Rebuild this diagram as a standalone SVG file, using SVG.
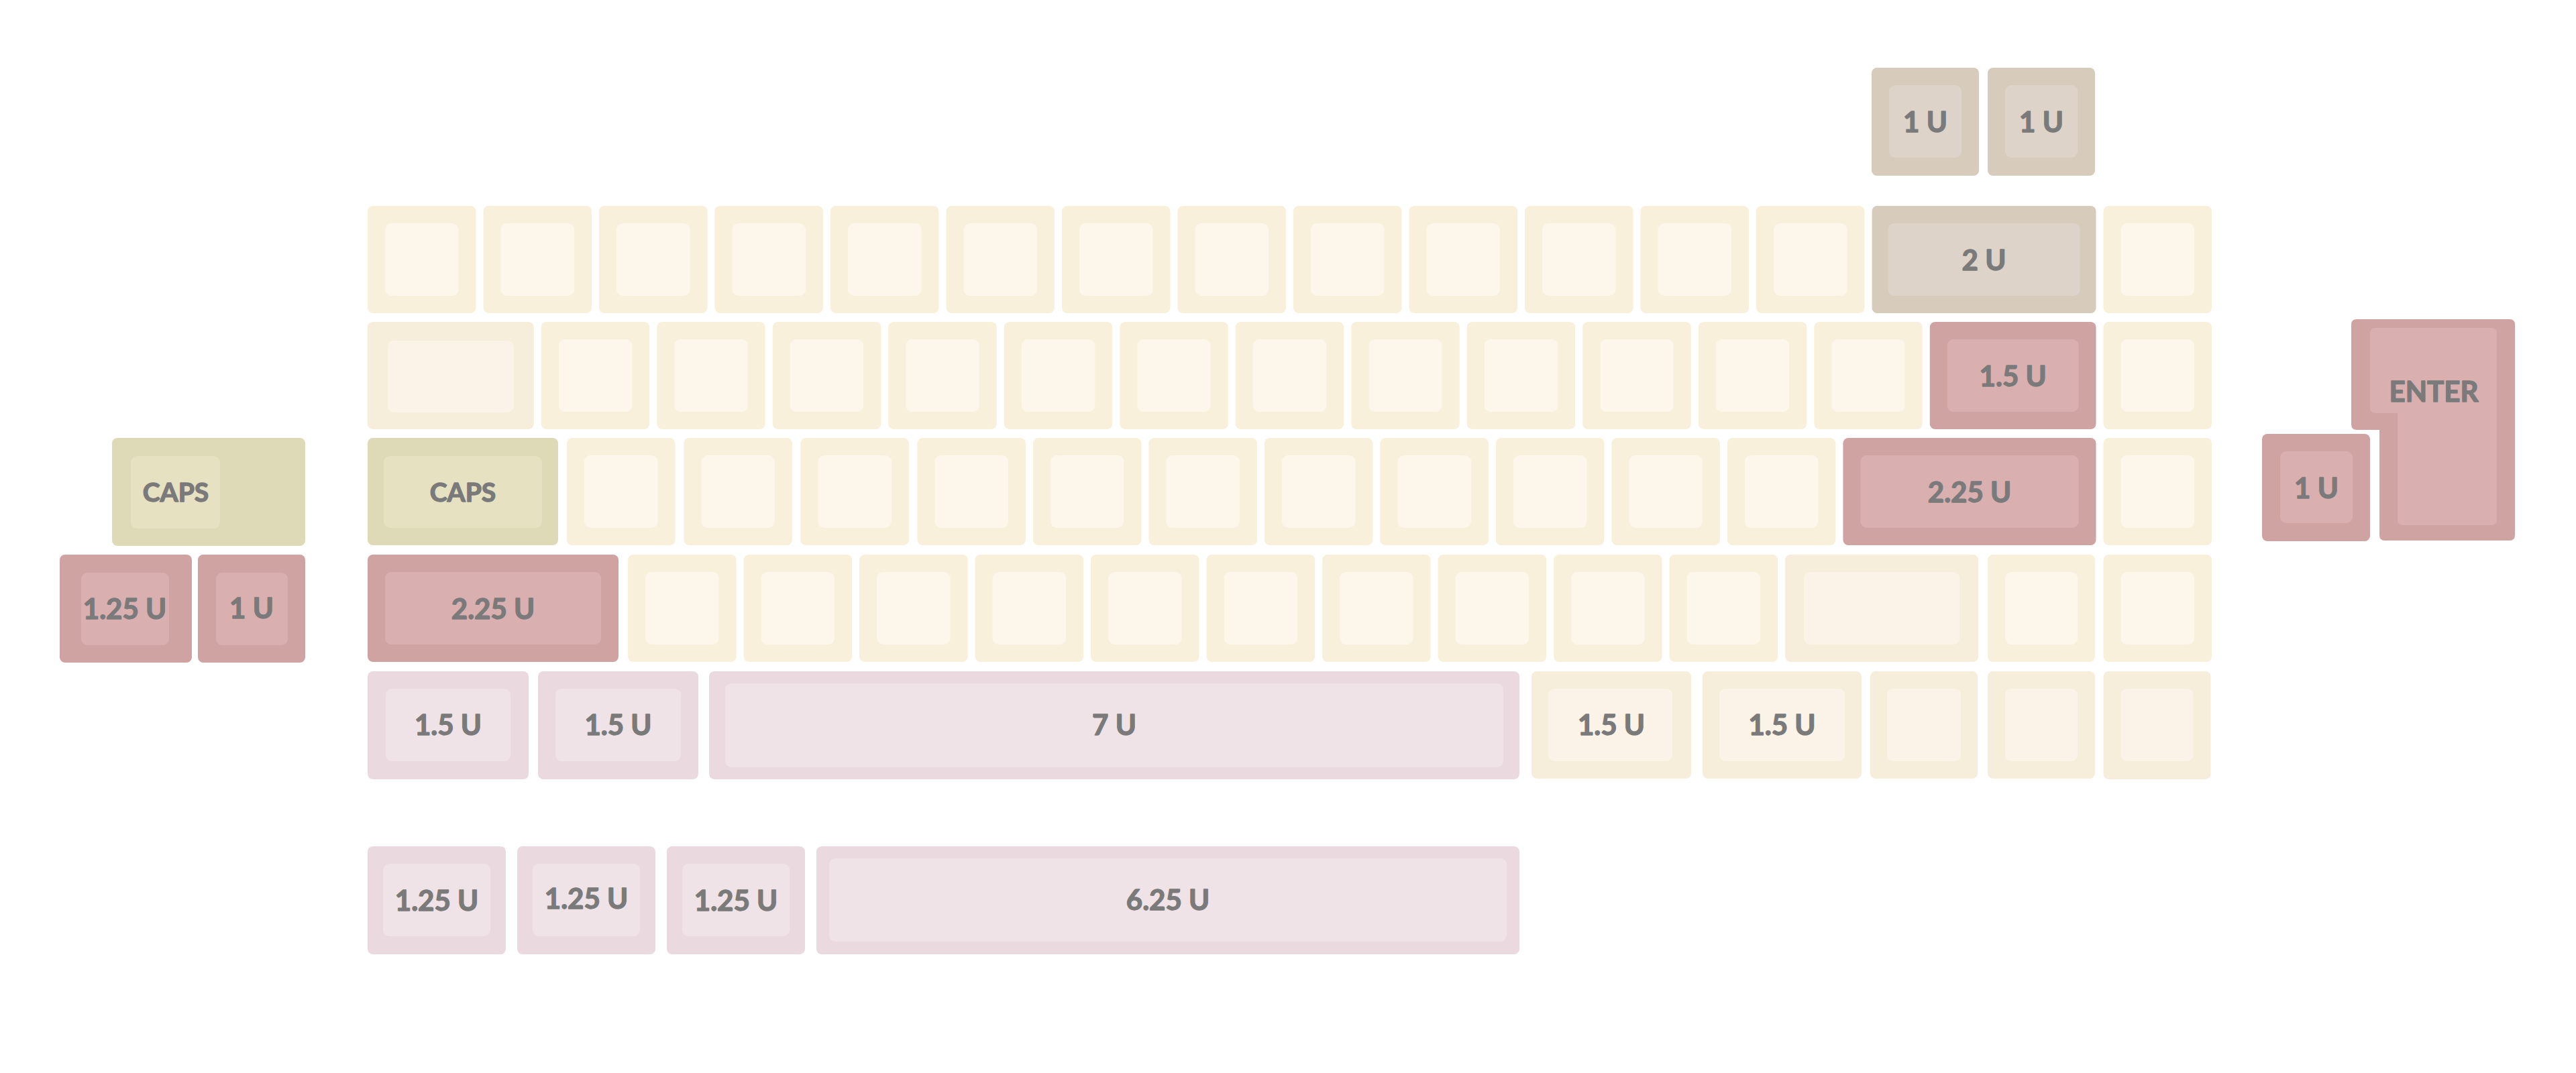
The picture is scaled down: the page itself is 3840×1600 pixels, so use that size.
<svg xmlns="http://www.w3.org/2000/svg" width="3840" height="1600" viewBox="0 0 3840 1600">
<style>
.o{rx:8px;ry:8px}
.i{rx:9px;ry:9px}
.c .o{fill:#f8f0da}.c .i{fill:#fdf6ea}
.m .o{fill:#f6eedb}.m .i{fill:#fbf3e7}
.t .o,.t.o{fill:#d7cbbc}.t .i,.t.i{fill:#ddd3c9}
.r .o,.r.o{fill:#d0a3a3}.r .i,.r.i{fill:#d9afb0}
.g .o,.g.o{fill:#dedab7}.g .i,.g.i{fill:#e5e1c1}
.p .o{fill:#eadadf}.p .i{fill:#efe3e7}
text{font-family:Lato,"Open Sans","Liberation Sans",sans-serif;font-weight:700;font-size:42px;fill:#7a7a7a;stroke:#7a7a7a;stroke-width:1.4px;stroke-linejoin:round;text-anchor:middle}
text.w{font-size:39px}
text.e{font-size:42px}
</style>
<rect width="3840" height="1600" fill="#ffffff"/>
<g id="keys">
<!-- top extras -->
<g id="k-top1" class="t"><rect class="o" x="2790" y="101" width="160" height="161"/><rect class="i" x="2816" y="127" width="108" height="108"/><text x="2870" y="197">1 U</text></g>
<g id="k-top2" class="t"><rect class="o" x="2963" y="101" width="160" height="161"/><rect class="i" x="2989" y="127" width="108" height="108"/><text x="3043" y="197">1 U</text></g>

<!-- row 1 -->
<g id="r1k1" class="c"><rect class="o" x="548" y="307" width="161.5" height="160"/><rect class="i" x="574" y="333" width="109.5" height="108"/></g>
<g id="r1k2" class="c"><rect class="o" x="720.5" y="307" width="161.5" height="160"/><rect class="i" x="746.5" y="333" width="109.5" height="108"/></g>
<g id="r1k3" class="c"><rect class="o" x="893" y="307" width="161.5" height="160"/><rect class="i" x="919" y="333" width="109.5" height="108"/></g>
<g id="r1k4" class="c"><rect class="o" x="1065.5" y="307" width="161.5" height="160"/><rect class="i" x="1091.5" y="333" width="109.5" height="108"/></g>
<g id="r1k5" class="c"><rect class="o" x="1238" y="307" width="161.5" height="160"/><rect class="i" x="1264" y="333" width="109.5" height="108"/></g>
<g id="r1k6" class="c"><rect class="o" x="1410.5" y="307" width="161.5" height="160"/><rect class="i" x="1436.5" y="333" width="109.5" height="108"/></g>
<g id="r1k7" class="c"><rect class="o" x="1583" y="307" width="161.5" height="160"/><rect class="i" x="1609" y="333" width="109.5" height="108"/></g>
<g id="r1k8" class="c"><rect class="o" x="1755.5" y="307" width="161.5" height="160"/><rect class="i" x="1781.5" y="333" width="109.5" height="108"/></g>
<g id="r1k9" class="c"><rect class="o" x="1928" y="307" width="161.5" height="160"/><rect class="i" x="1954" y="333" width="109.5" height="108"/></g>
<g id="r1k10" class="c"><rect class="o" x="2100.5" y="307" width="161.5" height="160"/><rect class="i" x="2126.5" y="333" width="109.5" height="108"/></g>
<g id="r1k11" class="c"><rect class="o" x="2273" y="307" width="161.5" height="160"/><rect class="i" x="2299" y="333" width="109.5" height="108"/></g>
<g id="r1k12" class="c"><rect class="o" x="2445.5" y="307" width="161.5" height="160"/><rect class="i" x="2471.5" y="333" width="109.5" height="108"/></g>
<g id="r1k13" class="c"><rect class="o" x="2618" y="307" width="161.5" height="160"/><rect class="i" x="2644" y="333" width="109.5" height="108"/></g>
<g id="r1k14" class="t"><rect class="o" x="2790.5" y="307" width="334" height="160"/><rect class="i" x="2814.5" y="333" width="286" height="108"/><text x="2957.5" y="403">2 U</text></g>
<g id="r1k15" class="c"><rect class="o" x="3135.5" y="307" width="161.5" height="160"/><rect class="i" x="3161.5" y="333" width="109.5" height="108"/></g>

<!-- row 2 -->
<g id="r2k1" class="m"><rect class="o" x="548" y="480" width="247.75" height="160"/><rect class="i" x="578" y="508" width="187.75" height="107"/></g>
<g id="r2k2" class="c"><rect class="o" x="806.75" y="480" width="161.5" height="160"/><rect class="i" x="832.75" y="506" width="109.5" height="108"/></g>
<g id="r2k3" class="c"><rect class="o" x="979.25" y="480" width="161.5" height="160"/><rect class="i" x="1005.25" y="506" width="109.5" height="108"/></g>
<g id="r2k4" class="c"><rect class="o" x="1151.75" y="480" width="161.5" height="160"/><rect class="i" x="1177.75" y="506" width="109.5" height="108"/></g>
<g id="r2k5" class="c"><rect class="o" x="1324.25" y="480" width="161.5" height="160"/><rect class="i" x="1350.25" y="506" width="109.5" height="108"/></g>
<g id="r2k6" class="c"><rect class="o" x="1496.75" y="480" width="161.5" height="160"/><rect class="i" x="1522.75" y="506" width="109.5" height="108"/></g>
<g id="r2k7" class="c"><rect class="o" x="1669.25" y="480" width="161.5" height="160"/><rect class="i" x="1695.25" y="506" width="109.5" height="108"/></g>
<g id="r2k8" class="c"><rect class="o" x="1841.75" y="480" width="161.5" height="160"/><rect class="i" x="1867.75" y="506" width="109.5" height="108"/></g>
<g id="r2k9" class="c"><rect class="o" x="2014.25" y="480" width="161.5" height="160"/><rect class="i" x="2040.25" y="506" width="109.5" height="108"/></g>
<g id="r2k10" class="c"><rect class="o" x="2186.75" y="480" width="161.5" height="160"/><rect class="i" x="2212.75" y="506" width="109.5" height="108"/></g>
<g id="r2k11" class="c"><rect class="o" x="2359.25" y="480" width="161.5" height="160"/><rect class="i" x="2385.25" y="506" width="109.5" height="108"/></g>
<g id="r2k12" class="c"><rect class="o" x="2531.75" y="480" width="161.5" height="160"/><rect class="i" x="2557.75" y="506" width="109.5" height="108"/></g>
<g id="r2k13" class="c"><rect class="o" x="2704.25" y="480" width="161.5" height="160"/><rect class="i" x="2730.25" y="506" width="109.5" height="108"/></g>
<g id="r2k14" class="r"><rect class="o" x="2876.75" y="480" width="247.75" height="160"/><rect class="i" x="2902.75" y="506" width="195.75" height="108"/><text x="3000.6" y="576">1.5 U</text></g>
<g id="r2k15" class="c"><rect class="o" x="3135.5" y="480" width="161.5" height="160"/><rect class="i" x="3161.5" y="506" width="109.5" height="108"/></g>

<!-- row 3 -->
<g id="r3k1" class="g"><rect class="o" x="548" y="653" width="284" height="160"/><rect class="i" x="572" y="680" width="236" height="107"/><text class="w" x="690" y="748">CAPS</text></g>
<g id="r3k2" class="c"><rect class="o" x="845" y="653" width="161.5" height="160"/><rect class="i" x="871" y="679" width="109.5" height="108"/></g>
<g id="r3k3" class="c"><rect class="o" x="1019.4" y="653" width="161.5" height="160"/><rect class="i" x="1045.4" y="679" width="109.5" height="108"/></g>
<g id="r3k4" class="c"><rect class="o" x="1193.4" y="653" width="161.5" height="160"/><rect class="i" x="1219.4" y="679" width="109.5" height="108"/></g>
<g id="r3k5" class="c"><rect class="o" x="1367.4" y="653" width="161.5" height="160"/><rect class="i" x="1393.4" y="679" width="109.5" height="108"/></g>
<g id="r3k6" class="c"><rect class="o" x="1539.9" y="653" width="161.5" height="160"/><rect class="i" x="1565.9" y="679" width="109.5" height="108"/></g>
<g id="r3k7" class="c"><rect class="o" x="1712.4" y="653" width="161.5" height="160"/><rect class="i" x="1738.4" y="679" width="109.5" height="108"/></g>
<g id="r3k8" class="c"><rect class="o" x="1884.9" y="653" width="161.5" height="160"/><rect class="i" x="1910.9" y="679" width="109.5" height="108"/></g>
<g id="r3k9" class="c"><rect class="o" x="2057.4" y="653" width="161.5" height="160"/><rect class="i" x="2083.4" y="679" width="109.5" height="108"/></g>
<g id="r3k10" class="c"><rect class="o" x="2229.9" y="653" width="161.5" height="160"/><rect class="i" x="2255.9" y="679" width="109.5" height="108"/></g>
<g id="r3k11" class="c"><rect class="o" x="2402.4" y="653" width="161.5" height="160"/><rect class="i" x="2428.4" y="679" width="109.5" height="108"/></g>
<g id="r3k12" class="c"><rect class="o" x="2574.9" y="653" width="161.5" height="160"/><rect class="i" x="2600.9" y="679" width="109.5" height="108"/></g>
<g id="r3k13" class="r"><rect class="o" x="2747.4" y="653" width="377.1" height="160"/><rect class="i" x="2773.4" y="679" width="325.1" height="108"/><text x="2936" y="749">2.25 U</text></g>
<g id="r3k14" class="c"><rect class="o" x="3135.5" y="653" width="161.5" height="160"/><rect class="i" x="3161.5" y="679" width="109.5" height="108"/></g>

<!-- row 4 -->
<g id="r4k1" class="r"><rect class="o" x="548" y="827" width="374" height="160"/><rect class="i" x="574" y="853" width="322" height="108"/><text x="735" y="923">2.25 U</text></g>
<g id="r4k2" class="c"><rect class="o" x="936.1" y="827" width="161.5" height="160"/><rect class="i" x="962.1" y="853" width="109.5" height="108"/></g>
<g id="r4k3" class="c"><rect class="o" x="1108.6" y="827" width="161.5" height="160"/><rect class="i" x="1134.6" y="853" width="109.5" height="108"/></g>
<g id="r4k4" class="c"><rect class="o" x="1281.1" y="827" width="161.5" height="160"/><rect class="i" x="1307.1" y="853" width="109.5" height="108"/></g>
<g id="r4k5" class="c"><rect class="o" x="1453.6" y="827" width="161.5" height="160"/><rect class="i" x="1479.6" y="853" width="109.5" height="108"/></g>
<g id="r4k6" class="c"><rect class="o" x="1626.1" y="827" width="161.5" height="160"/><rect class="i" x="1652.1" y="853" width="109.5" height="108"/></g>
<g id="r4k7" class="c"><rect class="o" x="1798.6" y="827" width="161.5" height="160"/><rect class="i" x="1824.6" y="853" width="109.5" height="108"/></g>
<g id="r4k8" class="c"><rect class="o" x="1971.1" y="827" width="161.5" height="160"/><rect class="i" x="1997.1" y="853" width="109.5" height="108"/></g>
<g id="r4k9" class="c"><rect class="o" x="2143.6" y="827" width="161.5" height="160"/><rect class="i" x="2169.6" y="853" width="109.5" height="108"/></g>
<g id="r4k10" class="c"><rect class="o" x="2316.1" y="827" width="161.5" height="160"/><rect class="i" x="2342.1" y="853" width="109.5" height="108"/></g>
<g id="r4k11" class="c"><rect class="o" x="2488.6" y="827" width="161.5" height="160"/><rect class="i" x="2514.6" y="853" width="109.5" height="108"/></g>
<g id="r4k12" class="m"><rect class="o" x="2661.1" y="827" width="288" height="160"/><rect class="i" x="2689" y="853" width="232" height="108"/></g>
<g id="r4k13" class="c"><rect class="o" x="2963" y="827" width="160" height="160"/><rect class="i" x="2989" y="853" width="108" height="108"/></g>
<g id="r4k14" class="c"><rect class="o" x="3135.5" y="827" width="161.5" height="160"/><rect class="i" x="3161.5" y="853" width="109.5" height="108"/></g>

<!-- row 5 -->
<g id="r5k1" class="p"><rect class="o" x="548" y="1001" width="240" height="161"/><rect class="i" x="575" y="1027" width="186" height="108"/><text x="668" y="1096">1.5 U</text></g>
<g id="r5k2" class="p"><rect class="o" x="802" y="1001" width="239" height="161"/><rect class="i" x="828" y="1027" width="187" height="108"/><text x="921.5" y="1096">1.5 U</text></g>
<g id="r5k3" class="p"><rect class="o" x="1057" y="1001" width="1208" height="161"/><rect class="i" x="1081" y="1019" width="1160" height="125"/><text x="1661" y="1096">7 U</text></g>
<g id="r5k4" class="m"><rect class="o" x="2283" y="1001" width="238" height="160"/><rect class="i" x="2308" y="1027" width="185" height="108"/><text x="2402" y="1096">1.5 U</text></g>
<g id="r5k5" class="m"><rect class="o" x="2538" y="1001" width="237" height="160"/><rect class="i" x="2563" y="1027" width="187" height="108"/><text x="2656.5" y="1096">1.5 U</text></g>
<g id="r5k6" class="m"><rect class="o" x="2788" y="1001" width="160" height="160"/><rect class="i" x="2813" y="1027" width="110" height="108"/></g>
<g id="r5k7" class="m"><rect class="o" x="2963" y="1001" width="160" height="160"/><rect class="i" x="2989" y="1027" width="108" height="108"/></g>
<g id="r5k8" class="m"><rect class="o" x="3135.5" y="1001" width="160" height="161"/><rect class="i" x="3161.5" y="1027" width="108" height="108"/></g>

<!-- bottom row -->
<g id="b1" class="p"><rect class="o" x="548" y="1262" width="206" height="161"/><rect class="i" x="571" y="1288" width="160" height="108"/><text x="651" y="1358">1.25 U</text></g>
<g id="b2" class="p"><rect class="o" x="771" y="1262" width="206" height="161"/><rect class="i" x="794" y="1288" width="160" height="108"/><text x="874" y="1355">1.25 U</text></g>
<g id="b3" class="p"><rect class="o" x="994" y="1262" width="206" height="161"/><rect class="i" x="1017" y="1288" width="160" height="108"/><text x="1097" y="1358">1.25 U</text></g>
<g id="b4" class="p"><rect class="o" x="1217" y="1262" width="1048" height="161"/><rect class="i" x="1236" y="1280" width="1010" height="124"/><text x="1741" y="1357">6.25 U</text></g>

<!-- left extras -->
<g id="caps-stepped" class="g"><rect class="o" x="167" y="653" width="288" height="161"/><rect class="i" x="195" y="680" width="133" height="108"/><text class="w" x="262" y="748">CAPS</text></g>
<g id="l-125" class="r"><rect class="o" x="89" y="827" width="197" height="161"/><rect class="i" x="121" y="854" width="131" height="108"/><text x="186" y="923">1.25 U</text></g>
<g id="l-1" class="r"><rect class="o" x="295" y="827" width="160" height="161"/><rect class="i" x="322" y="854" width="107" height="108"/><text x="375" y="922">1 U</text></g>

<!-- right extras -->
<g id="iso-enter" class="r">
<path class="r o" d="M3513 476 H3741 Q3749 476 3749 484 V798 Q3749 806 3741 806 H3555 Q3547 806 3547 798 V641 H3513 Q3505 641 3505 633 V484 Q3505 476 3513 476 Z"/>
<path class="r i" d="M3541 489 H3714 Q3722 489 3722 497 V775 Q3722 783 3714 783 H3582 Q3574 783 3574 775 V616 H3541 Q3533 616 3533 608 V497 Q3533 489 3541 489 Z"/>
<text class="e" x="3628" y="599">ENTER</text>
</g>
<g id="r-1" class="r"><rect class="o" x="3372" y="647" width="161" height="160"/><rect class="i" x="3399" y="673" width="108" height="107"/><text x="3453" y="743">1 U</text></g>
</g>
</svg>
